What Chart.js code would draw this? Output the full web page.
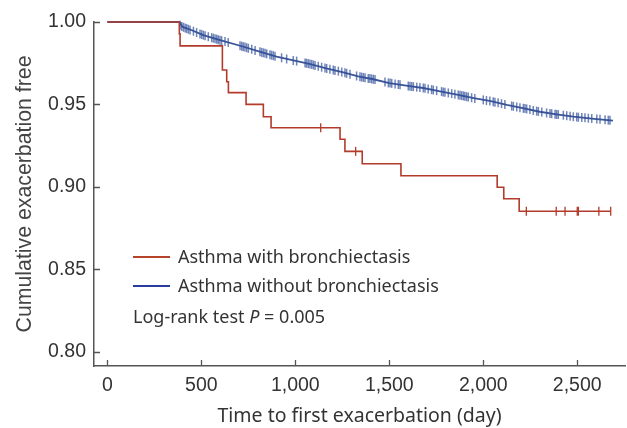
<!DOCTYPE html>
<html>
<head>
<meta charset="utf-8">
<script src="https://cdn.jsdelivr.net/npm/chart.js@4.4.1/dist/chart.umd.min.js"></script>
<style>
  html, body { margin: 0; padding: 0; background: #fff; }
  #wrap { width: 627px; height: 428px; position: relative; }
</style>
</head>
<body>
<div id="wrap"><canvas id="km"></canvas></div>
<script>
// x ticks (day) and y ticks (survival)
const xTicks = [0, 500, 1000, 1500, 2000, 2500]
const yTicks = [0.80, 0.85, 0.90, 0.95, 1.00]

// Asthma with bronchiectasis: step curve
const redDays = [0, 383, 387, 612, 635, 644, 738, 830, 871, 1238, 1264, 1356, 1562, 2074, 2109, 2191, 2678]
const redVals = [1.0, 0.9928, 0.9855, 0.9709, 0.9638, 0.9572, 0.9501, 0.9426, 0.9359, 0.9289, 0.9216, 0.9141, 0.9068, 0.8998, 0.8929, 0.8853, 0.8853]
const redCensorDays = [1135, 1321, 2229, 2388, 2435, 2500, 2506, 2615, 2678]
const redCensorVals = [0.9359, 0.9216, 0.8853, 0.8853, 0.8853, 0.8853, 0.8853, 0.8853, 0.8853]

// Asthma without bronchiectasis
const blueDays = [0, 383, 400, 450, 510, 600, 725, 810, 900, 990, 1080, 1170, 1255, 1335, 1415, 1500, 1590, 1680, 1770, 1860, 1950, 2040, 2125, 2210, 2300, 2390, 2480, 2590, 2690]
const blueVals = [1.0, 1.0, 0.997, 0.995, 0.992, 0.989, 0.985, 0.982, 0.979, 0.9767, 0.9745, 0.9717, 0.9695, 0.967, 0.9653, 0.963, 0.9614, 0.960, 0.958, 0.956, 0.9538, 0.952, 0.9497, 0.9478, 0.9456, 0.944, 0.9426, 0.9413, 0.9402]
const blueCensorDays = [
  387, 396, 405, 414, 422, 431, 440, 458, 475, 493, 502, 511, 520, 537, 555, 564, 573, 582, 590, 599,
  608, 626, 643, 706, 715, 723, 732, 741, 750, 768, 786, 812, 821, 830, 839, 848, 865, 874, 883, 892,
  927, 954, 989, 1007, 1052, 1060, 1069, 1078, 1087, 1096, 1105, 1122, 1140, 1158, 1167, 1184, 1202, 1211, 1229, 1247,
  1264, 1273, 1291, 1326, 1344, 1353, 1362, 1371, 1388, 1397, 1406, 1415, 1424, 1477, 1495, 1504, 1513, 1531, 1548, 1557,
  1601, 1610, 1619, 1628, 1646, 1663, 1681, 1690, 1707, 1725, 1734, 1752, 1778, 1787, 1796, 1814, 1832, 1849, 1867, 1876,
  1885, 1894, 1902, 1911, 1920, 1938, 1955, 2000, 2017, 2035, 2053, 2062, 2079, 2097, 2115, 2151, 2160, 2178, 2195, 2213,
  2222, 2231, 2248, 2266, 2284, 2293, 2311, 2337, 2355, 2364, 2382, 2390, 2399, 2426, 2444, 2462, 2479, 2497, 2506, 2524,
  2541, 2559, 2577, 2604, 2621, 2648, 2665, 2674
]
const blueCensorVals = [
  0.998, 0.9972, 0.9968, 0.9964, 0.996, 0.9956, 0.9952, 0.9944, 0.9936, 0.9928, 0.9924, 0.992, 0.9917, 0.9911, 0.9905, 0.9902, 0.9899, 0.9896, 0.9893, 0.989,
  0.9887, 0.9882, 0.9876, 0.9856, 0.9853, 0.985, 0.9848, 0.9844, 0.9841, 0.9835, 0.9828, 0.9819, 0.9816, 0.9813, 0.981, 0.9807, 0.9802, 0.9799, 0.9796, 0.9793,
  0.9783, 0.9776, 0.9767, 0.9763, 0.9752, 0.975, 0.9748, 0.9745, 0.9743, 0.974, 0.9737, 0.9732, 0.9726, 0.9721, 0.9718, 0.9713, 0.9709, 0.9706, 0.9702, 0.9697,
  0.9692, 0.9689, 0.9684, 0.9673, 0.9668, 0.9666, 0.9664, 0.9662, 0.9658, 0.9657, 0.9655, 0.9653, 0.9651, 0.9636, 0.9631, 0.963, 0.9628, 0.9624, 0.9621, 0.962,
  0.9612, 0.9611, 0.9609, 0.9608, 0.9605, 0.9603, 0.96, 0.9598, 0.9594, 0.959, 0.9588, 0.9584, 0.9578, 0.9576, 0.9574, 0.957, 0.9566, 0.9562, 0.9558, 0.9556,
  0.9554, 0.9552, 0.955, 0.9547, 0.9545, 0.9541, 0.9537, 0.9528, 0.9524, 0.9521, 0.9517, 0.9514, 0.951, 0.9505, 0.95, 0.9491, 0.9489, 0.9485, 0.9481, 0.9477,
  0.9475, 0.9473, 0.9469, 0.9464, 0.946, 0.9458, 0.9454, 0.9449, 0.9446, 0.9444, 0.9441, 0.944, 0.9439, 0.9435, 0.9432, 0.9429, 0.9426, 0.9424, 0.9423, 0.9421,
  0.9419, 0.9417, 0.9415, 0.9412, 0.941, 0.9407, 0.9405, 0.9404
]

const legendLabels = ['Asthma with bronchiectasis', 'Asthma without bronchiectasis']

const RED = '#b23b2c'
const BLUE = '#3b5598'
const AXIS = '#555'
const TXT = '#333'

const pts = (xs, ys) => xs.map((x, i) => ({x: x, y: ys[i]}))

// tick marks point into the plot in the original
const innerTicks = {
  id: 'innerTicks',
  afterDraw(chart) {
    const {ctx, chartArea, scales} = chart
    ctx.save()
    ctx.strokeStyle = AXIS
    ctx.lineWidth = 1.3
    ctx.beginPath()
    scales.x.ticks.forEach(t => {
      const px = Math.round(scales.x.getPixelForValue(t.value)) + 0.5
      ctx.moveTo(px, chartArea.bottom)
      ctx.lineTo(px, chartArea.bottom - 6)
    })
    scales.y.ticks.forEach(t => {
      const py = Math.round(scales.y.getPixelForValue(t.value)) + 0.5
      ctx.moveTo(chartArea.left, py)
      ctx.lineTo(chartArea.left + 6, py)
    })
    ctx.stroke()
    ctx.restore()
  }
}

// legend + p value inside the plot
const kmLegend = {
  id: 'kmLegend',
  afterDraw(chart) {
    const {ctx, chartArea} = chart
    const x0 = chartArea.left + 39
    const rows = [chartArea.top + 235, chartArea.top + 264]
    const cols = ['#b5432a', '#2b3d9c']
    ctx.save()
    ctx.font = '18px "Noto Sans"'
    ctx.textBaseline = 'middle'
    legendLabels.forEach((lab, i) => {
      ctx.strokeStyle = cols[i]
      ctx.lineWidth = 2.2
      ctx.beginPath()
      ctx.moveTo(x0, rows[i])
      ctx.lineTo(x0 + 37, rows[i])
      ctx.stroke()
      ctx.fillStyle = TXT
      ctx.fillText(lab, x0 + 45, rows[i] + 1)
    })
    const y3 = chartArea.top + 296
    let x = x0
    const parts = [['Log-rank test ', ''], ['P', 'italic '], [' = 0.005', '']]
    parts.forEach(p => {
      ctx.font = p[1] + '18px "Noto Sans"'
      ctx.fillText(p[0], x, y3)
      x += ctx.measureText(p[0]).width
    })
    ctx.restore()
  }
}

new Chart(document.getElementById('km'), {
  type: 'scatter',
  data: {
    datasets: [
      {
        data: pts(redCensorDays, redCensorVals),
        showLine: false,
        pointStyle: 'line',
        rotation: 90,
        pointRadius: 4.5,
        pointBorderWidth: 1.3,
        pointBorderColor: RED,
        borderColor: RED,
        clip: false
      },
      {
        data: pts(redDays, redVals),
        showLine: true,
        stepped: 'before',
        borderColor: RED,
        borderWidth: 1.6,
        pointRadius: 0,
        clip: false
      },
      {
        data: pts(blueCensorDays, blueCensorVals),
        showLine: false,
        pointStyle: 'line',
        rotation: 90,
        pointRadius: 4.5,
        pointBorderWidth: 1.5,
        pointBorderColor: 'rgba(50, 80, 155, 0.7)',
        borderColor: 'rgba(50, 80, 155, 0.7)',
        clip: false
      },
      {
        data: pts(blueDays, blueVals),
        showLine: true,
        borderColor: BLUE,
        borderWidth: 1.8,
        pointRadius: 0,
        clip: false
      }
    ]
  },
  options: {
    responsive: true,
    maintainAspectRatio: false,
    animation: false,
    events: [],
    layout: {autoPadding: false, padding: {left: 0, right: 2, top: 22, bottom: 0}},
    plugins: {legend: {display: false}, tooltip: {enabled: false}},
    scales: {
      x: {
        type: 'linear',
        min: -71,
        max: 2754,
        afterBuildTicks: s => { s.ticks = xTicks.map(v => ({value: v})) },
        afterFit: s => { s.height = 62; s.paddingLeft = 0; s.paddingRight = 0 },
        grid: {display: false, drawTicks: false},
        border: {display: true, color: AXIS, width: 1.5},
        ticks: {
          color: TXT,
          padding: 8,
          maxRotation: 0,
          font: {family: '"Liberation Sans", Arial, sans-serif', size: 19.5},
          callback: v => v.toLocaleString('en-US')
        },
        title: {
          display: true,
          text: 'Time to first exacerbation (day)',
          color: TXT,
          padding: {top: 0, bottom: 0},
          font: {family: '"Noto Sans", sans-serif', size: 19.5, lineHeight: 1.2}
        }
      },
      y: {
        type: 'linear',
        min: 0.7915,
        max: 1.0,
        afterBuildTicks: s => { s.ticks = yTicks.map(v => ({value: v})) },
        afterFit: s => { s.width = 94; s.paddingTop = 0; s.paddingBottom = 0 },
        grid: {display: false, drawTicks: false},
        border: {display: true, color: AXIS, width: 1.5},
        ticks: {
          color: TXT,
          padding: 8,
          font: {family: '"Liberation Sans", Arial, sans-serif', size: 19.5},
          callback: v => v.toFixed(2)
        },
        title: {
          display: true,
          text: 'Cumulative exacerbation free',
          color: '#444',
          padding: {top: 12, bottom: 0},
          font: {family: '"Liberation Sans", Arial, sans-serif', size: 21.3}
        }
      }
    }
  },
  plugins: [innerTicks, kmLegend]
})
</script>
</body>
</html>
